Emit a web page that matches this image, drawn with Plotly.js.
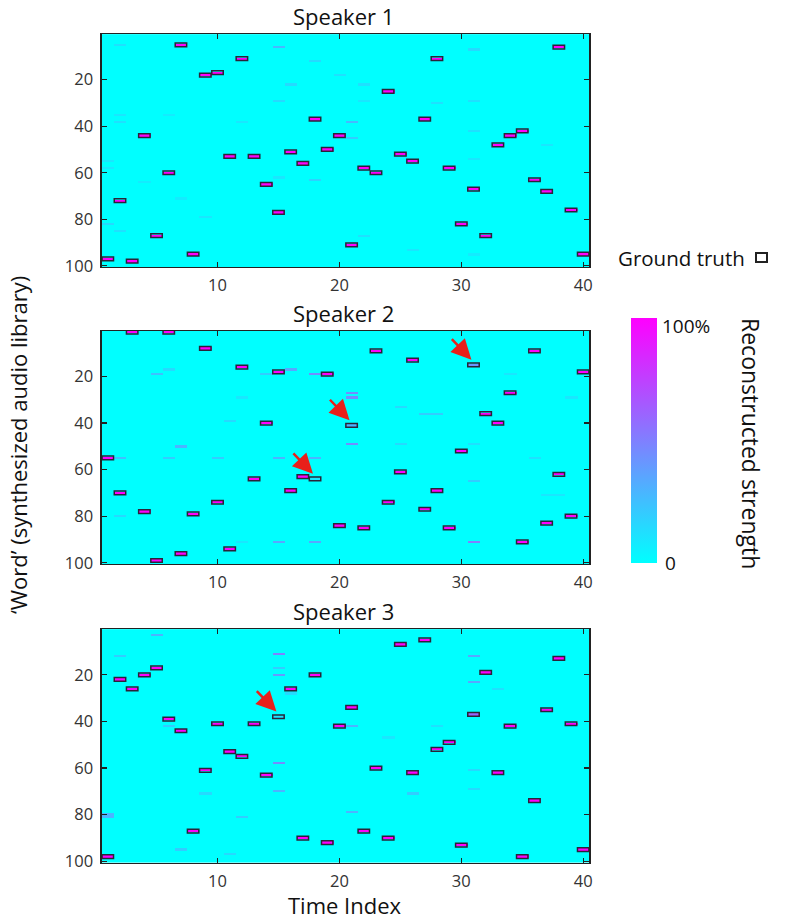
<!DOCTYPE html>
<html>
<head>
<meta charset="utf-8">
<script src="https://cdn.plot.ly/plotly-3.0.1.min.js"></script>
<style>html,body{margin:0;padding:0;background:#fff;}#chart{width:799px;height:923px;}</style>
</head>
<body>
<div id="chart"></div>
<script>
// Ground-truth word index (1..100) for each time index 1..40
const truth1 = [97,72,98,44,87,60,5,95,18,17,53,11,53,65,77,51,56,37,50,44,91,58,60,25,52,55,37,11,58,82,67,87,48,44,42,63,68,6,76,95];
const truth2 = [55,70,1,78,99,1,96,79,8,74,94,16,64,40,18,69,63,64,19,84,41,85,9,74,61,13,77,69,85,52,15,36,40,27,91,9,83,62,80,18];
const truth3 = [98,22,26,20,17,39,44,87,61,41,53,55,41,63,38,26,90,20,92,42,34,87,60,90,7,62,5,52,49,93,37,19,62,42,98,74,35,13,41,95];

// Ground-truth cells that were reconstructed weakly (time index, strength)
const weak2_t = [31, 21, 18];
const weak2_v = [0.42, 0.3, 0.1];
const weak3_t = [15, 31];
const weak3_v = [0.12, 0.6];

// Spurious reconstructed strength elsewhere (time, word, strength)
const spur1_t = [2,2,2,1,1,1,2,6,4,7,9,15,18,16,15,18,15,12,21,21,22,22,28,20,22,26,31,31,31,31,37,31];
const spur1_w = [5,35,38,55,58,82,85,35,64,71,79,6,12,22,29,63,62,38,38,45,22,29,30,18,87,93,7,29,42,54,48,95];
const spur1_v = [0.12,0.1,0.12,0.1,0.1,0.15,0.12,0.08,0.08,0.08,0.1,0.28,0.15,0.15,0.15,0.18,0.1,0.1,0.28,0.2,0.12,0.1,0.12,0.12,0.12,0.1,0.15,0.12,0.12,0.1,0.1,0.08];
const spur2_t = [5,6,7,2,6,10,2,16,18,14,15,18,11,12,15,18,12,21,21,21,27,28,25,25,31,31,31,36,37,38,34,39];
const spur2_w = [19,17,50,55,55,55,80,17,19,19,55,55,39,29,91,91,91,27,29,49,36,36,33,49,91,65,49,55,71,71,19,29];
const spur2_v = [0.25,0.15,0.3,0.25,0.2,0.2,0.15,0.35,0.45,0.2,0.3,0.3,0.15,0.1,0.35,0.35,0.1,0.45,0.45,0.45,0.2,0.2,0.15,0.15,0.5,0.2,0.12,0.12,0.1,0.1,0.1,0.1];
const spur3_t = [5,2,6,1,1,9,7,15,15,15,15,15,16,12,11,21,21,26,28,24,31,31,31,31,33];
const spur3_w = [3,12,42,80,81,71,95,11,20,17,58,70,28,81,97,42,79,71,42,47,12,23,61,69,26];
const spur3_v = [0.3,0.2,0.2,0.3,0.3,0.15,0.2,0.5,0.4,0.2,0.45,0.3,0.15,0.2,0.15,0.3,0.3,0.2,0.12,0.1,0.35,0.35,0.15,0.15,0.12];

// Arrow targets (speaker panel, time, word)
const arrow_panel = [2, 2, 2, 3];
const arrow_t = [31, 21, 18, 15];
const arrow_w = [15, 41, 64, 38];

const titles = ['Speaker 1', 'Speaker 2', 'Speaker 3'];
const xTicks = [10, 20, 30, 40];
const yTicks = [20, 40, 60, 80, 100];
const NT = 40, NW = 100;

function buildZ(truth, wt, wv, st, sw, sv) {
  const z = [];
  for (let w = 0; w < NW; w++) z.push(new Array(NT).fill(0));
  for (let i = 0; i < st.length; i++) z[sw[i]-1][st[i]-1] = sv[i];
  for (let t = 1; t <= NT; t++) z[truth[t-1]-1][t-1] = 1;
  for (let i = 0; i < wt.length; i++) z[truth[wt[i]-1]-1][wt[i]-1] = wv[i];
  return z;
}
const xs = []; for (let t = 1; t <= NT; t++) xs.push(t);
const ys = []; for (let w = 1; w <= NW; w++) ys.push(w);

const zs = [
  buildZ(truth1, [], [], spur1_t, spur1_w, spur1_v),
  buildZ(truth2, weak2_t, weak2_v, spur2_t, spur2_w, spur2_v),
  buildZ(truth3, weak3_t, weak3_v, spur3_t, spur3_w, spur3_v)
];
const truths = [truth1, truth2, truth3];

const W = 799, H = 923;
const xDom = [101.7/W, 589.3/W];
const panelPx = [[34.3, 267], [331, 564], [629.3, 862.5]];
const FONT = 'Open Sans, Lato, sans-serif';

const data = [];
const layout = {
  width: W, height: H,
  margin: {l: 0, r: 0, t: 0, b: 0},
  paper_bgcolor: '#ffffff', plot_bgcolor: '#00ffff',
  showlegend: false,
  font: {family: FONT, size: 16, color: '#333333'},
  shapes: [], annotations: []
};

for (let p = 0; p < 3; p++) {
  const sfx = p === 0 ? '' : String(p + 1);
  data.push({
    type: 'heatmap', z: zs[p], x: xs, y: ys,
    xaxis: 'x' + sfx, yaxis: 'y' + sfx,
    zmin: 0, zmax: 1,
    colorscale: [[0, '#00ffff'], [1, '#ff00ff']],
    showscale: p === 0,
    hoverinfo: 'x+y+z',
    colorbar: {
      x: 631/W, xanchor: 'left', xref: 'paper',
      y: 1 - 440.5/H, yanchor: 'middle',
      lenmode: 'pixels', len: 245,
      thickness: 26, thicknessmode: 'pixels',
      outlinewidth: 0, ticks: '', showticklabels: false, xpad: 0, ypad: 0
    }
  });
  const top = panelPx[p][0], bot = panelPx[p][1];
  layout['xaxis' + sfx] = {
    domain: xDom, anchor: 'y' + sfx, range: [0.5, 40.5],
    tickvals: xTicks, ticks: 'inside', ticklen: 5, tickwidth: 1.2, tickcolor: '#222',
    showline: true, linecolor: '#222', linewidth: 1.3, mirror: 'ticks',
    showgrid: false, zeroline: false, ticklabelstandoff: 3,
    tickfont: {family: FONT, size: 16.5, color: '#333'}
  };
  layout['yaxis' + sfx] = {
    domain: [1 - bot/H, 1 - top/H], anchor: 'x' + sfx, range: [100.5, 0.5],
    tickvals: yTicks, ticks: 'inside', ticklen: 5, tickwidth: 1.2, tickcolor: '#222',
    showline: true, linecolor: '#222', linewidth: 1.3, mirror: 'ticks',
    showgrid: false, zeroline: false, ticklabelstandoff: 4,
    tickfont: {family: FONT, size: 16.5, color: '#333'}
  };
  // panel title
  layout.annotations.push({
    xref: 'paper', yref: 'paper', x: 343/W, y: 1 - (top - 18)/H,
    text: titles[p], showarrow: false, xanchor: 'center', yanchor: 'middle',
    font: {family: FONT, size: 22, color: '#111'}
  });
  // ground-truth outlines
  const tr = truths[p];
  for (let t = 1; t <= NT; t++) {
    layout.shapes.push({
      type: 'rect', xref: 'x' + sfx, yref: 'y' + sfx,
      x0: t - 0.47, x1: t + 0.47, y0: tr[t-1] - 0.8, y1: tr[t-1] + 0.8,
      line: {color: '#2a2438', width: 1.5}, fillcolor: 'rgba(0,0,0,0)', layer: 'above'
    });
  }
}

// red arrows
for (let i = 0; i < arrow_t.length; i++) {
  const sfx = arrow_panel[i] === 1 ? '' : String(arrow_panel[i]);
  layout.annotations.push({
    xref: 'x' + sfx, yref: 'y' + sfx,
    x: arrow_t[i] - 0.17, y: arrow_w[i] - 2.2,
    ax: -21, ay: -22, axref: 'pixel', ayref: 'pixel',
    showarrow: true, arrowhead: 2, arrowsize: 1.6, arrowwidth: 2.5,
    arrowcolor: '#e8201a', text: '', standoff: 0
  });
}

// axis titles
layout.annotations.push({
  xref: 'paper', yref: 'paper', x: 345/W, y: 1 - 905/H,
  text: 'Time Index', showarrow: false, xanchor: 'center', yanchor: 'middle',
  font: {family: FONT, size: 22, color: '#111'}
});
layout.annotations.push({
  xref: 'paper', yref: 'paper', x: 18/W, y: 1 - 445/H,
  text: '\u2018Word\u2019 (synthesized audio library)', showarrow: false, textangle: -90,
  xanchor: 'center', yanchor: 'middle',
  font: {family: FONT, size: 22, color: '#111'}
});
// colorbar labels
layout.annotations.push({
  xref: 'paper', yref: 'paper', x: 660/W, y: 1 - 326/H,
  text: '100%', showarrow: false, xanchor: 'left', yanchor: 'middle',
  font: {family: FONT, size: 19, color: '#111'}
});
layout.annotations.push({
  xref: 'paper', yref: 'paper', x: 663/W, y: 1 - 563/H,
  text: '0', showarrow: false, xanchor: 'left', yanchor: 'middle',
  font: {family: FONT, size: 19, color: '#111'}
});
layout.annotations.push({
  xref: 'paper', yref: 'paper', x: 751/W, y: 1 - 443/H,
  text: 'Reconstructed strength', showarrow: false, textangle: 90,
  xanchor: 'center', yanchor: 'middle',
  font: {family: FONT, size: 23, color: '#111'}
});
// ground truth legend
layout.annotations.push({
  xref: 'paper', yref: 'paper', x: 747/W, y: 1 - 258/H,
  text: 'Ground truth', showarrow: false, xanchor: 'right', yanchor: 'middle',
  font: {family: FONT, size: 20.5, color: '#111'}
});
layout.shapes.push({
  type: 'rect', xref: 'paper', yref: 'paper',
  x0: 756/W, x1: 767/W, y0: 1 - 262/H, y1: 1 - 253/H,
  line: {color: '#222', width: 2}, fillcolor: '#ffffff'
});

Plotly.newPlot('chart', data, layout, {staticPlot: true});
</script>
</body>
</html>
